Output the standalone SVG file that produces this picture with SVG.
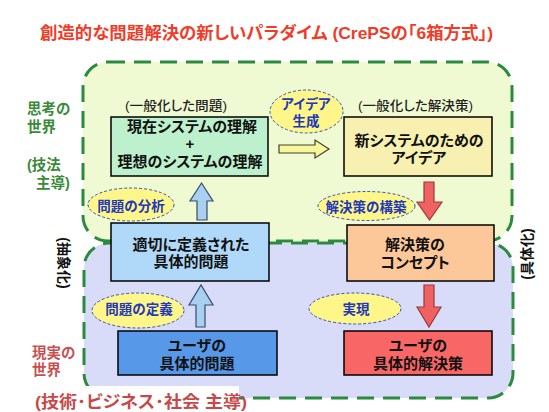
<svg xmlns="http://www.w3.org/2000/svg" width="549" height="412" viewBox="0 0 549 412">
<style>
text{font-family:"Liberation Sans","Noto Sans CJK JP",sans-serif;font-feature-settings:"palt";}
.bx{stroke:#000;stroke-width:1.5;}
.bt{font-size:15px;font-weight:bold;fill:#111;text-anchor:middle;}
.el{fill:#fff68a;stroke:#3050c0;stroke-width:1;stroke-dasharray:3 2;}
.et{font-size:13.5px;font-weight:bold;fill:#2238b8;text-anchor:middle;}
.rg{stroke:#2a8a3e;stroke-width:3;stroke-dasharray:17 9;}
.gl{font-size:14.5px;font-weight:bold;fill:#3a8a3a;}
.rl{font-size:14.5px;font-weight:bold;fill:#c85050;}
.sub{font-size:13px;font-weight:500;fill:#222;}
.vt{font-size:14px;font-weight:bold;fill:#111;text-anchor:middle;}
.ab{fill:#a8d0f0;stroke:#3a4a6a;stroke-width:1.2;}
.ar{fill:#f06262;stroke:#9a3a3a;stroke-width:1.2;}
.ay{fill:#f8f89a;stroke:#404030;stroke-width:1.2;}
</style>
<rect width="549" height="412" fill="#fff"/>
<text x="40" y="39" textLength="453" lengthAdjust="spacingAndGlyphs" style="font-size:16.5px;font-weight:bold;fill:#f03c28">創造的な問題解決の新しいパラダイム (CrePSの「6箱方式」)</text>

<g id="region-thinking">
<rect class="rg" x="83" y="62" width="429" height="179" rx="25" fill="#f0fad2"/>
</g>
<g id="region-reality">
<rect class="rg" x="84" y="243" width="429" height="155" rx="25" fill="#d8dcf8"/>
</g>

<g id="labels">
<text class="gl" x="27" y="114">思考の</text>
<text class="gl" x="27" y="132">世界</text>
<text class="gl" x="27" y="170">(技法</text>
<text class="gl" x="36" y="188">主導)</text>
<text class="rl" x="32" y="358">現実の</text>
<text class="rl" x="32" y="375">世界</text>
<rect x="30" y="386" width="209" height="26" fill="#fff"/>
<text x="35" y="408" textLength="212" lengthAdjust="spacingAndGlyphs" style="font-size:16.5px;font-weight:bold;fill:#c84848">(技術･ビジネス･社会 主導)</text>
<text class="vt" transform="translate(64,263) rotate(90)" y="5">(抽象化)</text>
<text class="vt" transform="translate(527,254) rotate(-90)" y="5">(具体化)</text>
<text class="sub" x="125" y="110" textLength="102" lengthAdjust="spacingAndGlyphs">(一般化した問題)</text>
<text class="sub" x="358" y="110" textLength="115" lengthAdjust="spacingAndGlyphs">(一般化した解決策)</text>
</g>

<g id="connectors">
<polygon class="ay" points="279,145 315,145 315,140 329,149 315,158 315,153 279,153"/>
<polygon class="ab" points="197,220 197,201 190,201 201.5,183 213,201 207,201 207,220"/>
<polygon class="ab" points="196,327 196,305 189,305 201,285 213,305 205,305 205,327"/>
<polygon class="ar" points="424,182 434,182 434,202 442,202 429.5,220 417,202 424,202"/>
<polygon class="ar" points="424,285 434,285 434,307 441,307 429,327 417,307 424,307"/>
</g>

<g id="box-current">
<rect class="bx" x="111" y="117" width="157" height="59" fill="#bdf0cc"/>
<text class="bt" x="192" y="132">現在システムの理解</text>
<text class="bt" x="190" y="149">+</text>
<text class="bt" x="190" y="167">理想のシステムの理解</text>
</g>
<g id="box-idea">
<rect class="bx" x="344" y="117" width="148" height="59" fill="#f8f0b0"/>
<text class="bt" x="419" y="146">新システムのための</text>
<text class="bt" x="419" y="163">アイデア</text>
</g>
<g id="box-defined">
<rect class="bx" x="111" y="223" width="158" height="58" fill="#b0d8f8"/>
<text class="bt" x="191" y="250">適切に定義された</text>
<text class="bt" x="191" y="267">具体的問題</text>
</g>
<g id="box-concept">
<rect class="bx" x="347" y="225" width="147" height="56" fill="#fcc89a"/>
<text class="bt" x="415" y="250">解決策の</text>
<text class="bt" x="415" y="268">コンセプト</text>
</g>
<g id="box-userproblem">
<rect class="bx" x="118" y="331" width="159" height="44" fill="#5898e8"/>
<text class="bt" x="197" y="351">ユーザの</text>
<text class="bt" x="197" y="369">具体的問題</text>
</g>
<g id="box-usersolution">
<rect class="bx" x="344" y="331" width="148" height="44" fill="#f86666"/>
<text class="bt" x="418" y="351">ユーザの</text>
<text class="bt" x="418" y="369">具体的解決策</text>
</g>

<g id="ellipse-idea">
<ellipse class="el" cx="306.5" cy="111.5" rx="36.5" ry="21.5"/>
<text class="et" x="306" y="109">アイデア</text>
<text class="et" x="306" y="126">生成</text>
</g>
<g id="ellipse-analysis">
<ellipse class="el" cx="131" cy="204.5" rx="43" ry="16.5"/>
<text class="et" x="131" y="211">問題の分析</text>
</g>
<g id="ellipse-build">
<ellipse class="el" cx="366.5" cy="206" rx="48.5" ry="14.5"/>
<text class="et" x="366" y="212">解決策の構築</text>
</g>
<g id="ellipse-define">
<ellipse class="el" cx="138" cy="310.5" rx="46" ry="17.5"/>
<text class="et" x="139" y="314">問題の定義</text>
</g>
<g id="ellipse-realize">
<ellipse class="el" cx="355" cy="308.5" rx="46" ry="15.5"/>
<text class="et" x="356" y="314">実現</text>
</g>
</svg>
